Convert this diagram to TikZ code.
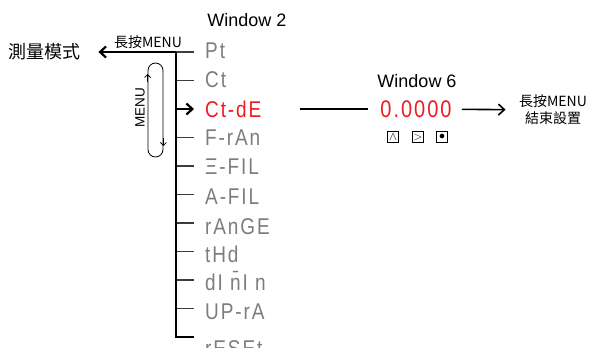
\documentclass[tikz,border=0pt]{standalone}
\usepackage{fontspec}
\usepackage{graphicx}
\setmainfont{Liberation Sans}
\newfontfamily\cjk{Noto Sans CJK TC}
\newfontfamily\segfont[LetterSpace=10]{Liberation Sans}
\usetikzlibrary{arrows.meta}

\definecolor{segred}{RGB}{236,28,36}
\definecolor{seggray}{RGB}{125,125,125}
\definecolor{branchgray}{RGB}{60,60,60}

\newcommand{\tallseg}[1]{\scalebox{1}[1.2]{#1}}

\tikzstyle{seg} = [font=\segfont\fontsize{19}{19}\selectfont, anchor=west, inner sep=0pt, text height=16.5pt, text depth=0pt]
\tikzstyle{branch} = [draw=branchgray, line width=1.7pt]
\tikzstyle{bold} = [draw=black, line width=2.2pt]
\tikzstyle{key} = [draw, line width=0.8pt, minimum size=11.5pt, inner sep=0pt, font=\fontsize{13}{13}\selectfont]
\tikzstyle{tip} = [-{Straight Barb[length=6pt, width=11pt]}]

\begin{document}
\begin{tikzpicture}[x=1pt, y=-1pt]
\useasboundingbox (0,0) rectangle (592,348);

\node[font=\fontsize{18}{18}\selectfont] (win2) at (247,20) {Window 2};
\node[font=\cjk\fontsize{18}{18}\selectfont, anchor=west, inner sep=0pt] (mode) at (8,52) {測量模式};

% Window 2 menu items
\foreach \y/\lbl/\col [count=\i] in {50/Pt/seggray, 79/Ct/seggray, 109/Ct-dE/segred,
    137/F-rAn/seggray, 166/Ξ-FIL/seggray, 196/A-FIL/seggray, 226/rAnGE/seggray,
    254/tHd/seggray, 282/{dI \=nI n}/seggray, 311/UP-rA/seggray, 348/rESEt/seggray}
  {
    \node[seg, text=\col] (m\i) at (205,\y) {\tallseg{\lbl}};
    \coordinate (t\i) at (176, {52+28.5*(\i-1)});
    \coordinate (b\i) at (194, {52+28.5*(\i-1)});
  }

\foreach \i in {1,2,4,5,6,7,8,9,10}
  \draw[branch] (t\i) -- (b\i);
\draw[branch, draw=black, line width=1.2pt] (t3) -- (t11) -- (b11);

% long press MENU: back to measuring mode
\draw[bold, tip, shorten >=18pt] (t1) -- (mode);
\node[font=\cjk\fontsize{14}{14}\selectfont, anchor=south, inner sep=1pt] (hold1) at (148,50) {長按MENU};
\draw[bold, tip] (t1) -- (t3) -- (b3);

% MENU loop
\node[draw, line width=0.8pt, rounded corners=7.5pt, minimum width=15pt, minimum height=94pt, inner sep=0pt] (loop) at (155.5,110) {};
\draw[line width=0.8pt, -{Straight Barb[length=3pt, width=6pt]}] ([yshift=28pt]loop.west) -- ([yshift=36pt]loop.west);
\draw[line width=0.8pt, -{Straight Barb[length=3pt, width=6pt]}] ([yshift=-28pt]loop.east) -- ([yshift=-36pt]loop.east);
\node[rotate=90, font=\fontsize{13.5}{13.5}\selectfont] (menu) at (140,108) {MENU};

% Window 6
\node[font=\fontsize{18}{18}\selectfont] (win6) at (417,81) {Window 6};
\node[seg, text=segred, anchor=center, font=\segfont\fontsize{20}{20}\selectfont] (val) at (416,109) {\tallseg{0.0000}};
\node[key] (kup) at (393,137) {$\wedge$};
\node[key] (kright) at (418,137) {$>$};
\node[key] (kok) at (442,137) {$\bullet$};
\node[font=\cjk\fontsize{14}{17}\selectfont, align=center] (done) at (553,110) {長按MENU\\結束設置};

\draw[bold, line width=1.8pt, shorten <=38pt, shorten >=12pt] (m3.east) -- (val.west);
\draw[bold, line width=1.6pt, tip, shorten <=10pt, shorten >=10pt] (val) -- (done);
\end{tikzpicture}
\end{document}
